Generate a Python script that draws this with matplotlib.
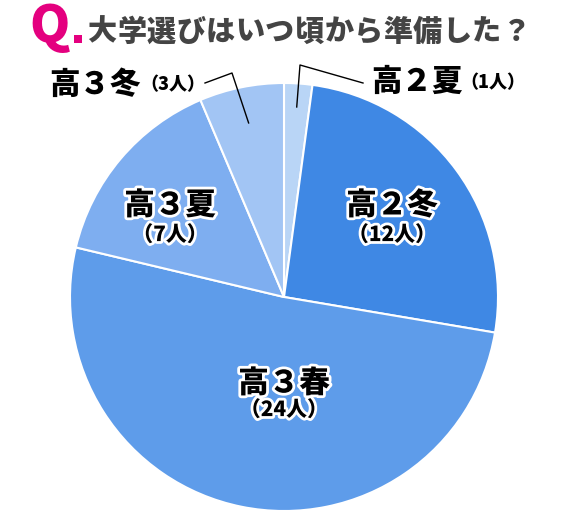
import numpy as np
import matplotlib.pyplot as plt
import matplotlib.patheffects as pe

plt.rcParams['font.family'] = ['Noto Sans CJK JP', 'DejaVu Sans']

title = '大学選びはいつ頃から準備した？'
labels = ['高２夏', '高２冬', '高３春', '高３夏', '高３冬']
counts = [1, 12, 24, 7, 3]
colors = ['#b9d5f6', '#3f88e4', '#5e9cea', '#7eaef0', '#a2c5f4']

W, H = 570, 520
CX, CY, R = 284, H - 297, 214

fig = plt.figure(figsize=(5.7, 5.2), dpi=100)
ax = fig.add_axes([0, 0, 1, 1])

wedges, _ = ax.pie(counts, colors=colors, startangle=90, counterclock=False,
                   center=(CX, CY), radius=R, frame=True,
                   wedgeprops=dict(edgecolor='white', linewidth=1.5))
ax.set_xlim(0, W)
ax.set_ylim(0, H)
ax.set_aspect('equal')
ax.axis('off')


def y(v):
    return H - v


# title: "Q." mark then spaced characters
ax.text(50, y(27), 'Q', color='#e4007f', fontsize=37, fontweight='heavy',
        ha='center', va='center')
ax.add_patch(plt.Rectangle((74, y(43)), 8, 8, color='#e4007f', lw=0))
for k, ch in enumerate(title):
    ax.text(102 + k * 29.6, y(32), ch, color='#444444', fontsize=21,
            fontweight='heavy', ha='center', va='center')

stroke = [pe.withStroke(linewidth=4, foreground='white')]

# inner labels
inner = {1: (392, 205, 235), 2: (284, 383, 410), 3: (170, 205, 235)}
for i, (x, y1, y2) in inner.items():
    ax.text(x, y(y1), labels[i], fontsize=22, fontweight='heavy', ha='center',
            va='center', path_effects=stroke)
    ax.text(x, y(y2), f'（{counts[i]}人）', fontsize=15, fontweight='heavy',
            ha='center', va='center', path_effects=stroke)


def wedge_point(w, frac):
    mid = np.deg2rad((w.theta1 + w.theta2) / 2)
    return CX + R * frac * np.cos(mid), CY + R * frac * np.sin(mid)


# outer labels with leader lines
px, py = wedge_point(wedges[0], 0.89)
ax.plot([px, 300, 363], [py, y(65), y(83)], color='black', lw=1)
ax.text(371, y(81), labels[0], fontsize=22, fontweight='heavy', ha='left', va='center')
ax.text(460, y(83), f'（{counts[0]}人）', fontsize=13, fontweight='heavy',
        ha='left', va='center')

px, py = wedge_point(wedges[4], 0.83)
ax.plot([px, 232, 205], [py, y(73), y(83)], color='black', lw=1)
ax.text(141, y(84), labels[4], fontsize=22, fontweight='heavy', ha='right', va='center')
ax.text(140, y(85), f'（{counts[4]}人）', fontsize=13, fontweight='heavy',
        ha='left', va='center')

fig.savefig('out.png', dpi=100)
